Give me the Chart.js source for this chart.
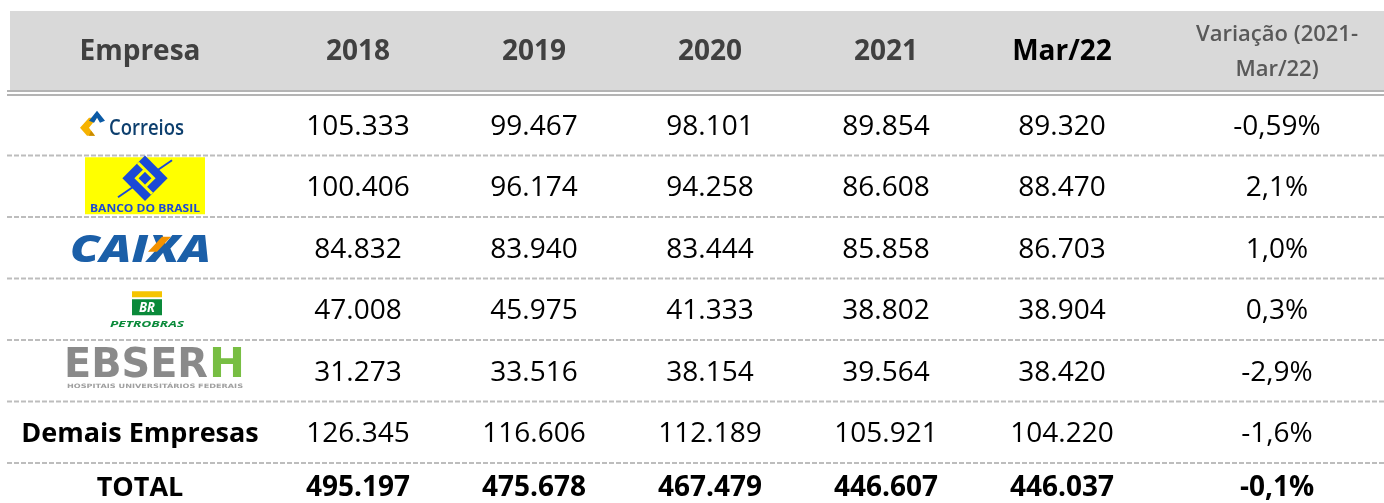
<!DOCTYPE html>
<html lang="pt-BR">
<head>
<meta charset="UTF-8">
<title>Empregados das empresas estatais</title>
<script src="https://cdn.jsdelivr.net/npm/chart.js@4.4.1/dist/chart.umd.min.js"></script>
<style>
  html, body { margin: 0; padding: 0; background: #fff; overflow: hidden; }
  #wrap { width: 1384px; height: 503px; position: relative; }
</style>
</head>
<body>
<div id="wrap"><canvas id="tabelaChart"></canvas></div>
<script>
// ======================== 1. Dados ========================
const empresas = ['Correios', 'Banco do Brasil', 'Caixa', 'Petrobras', 'EBSERH', 'Demais Empresas', 'TOTAL'];
const cabecalho = ['Empresa', '2018', '2019', '2020', '2021', 'Mar/22', 'Variação (2021-\nMar/22)'];
const v2018 = [105333, 100406, 84832, 47008, 31273, 126345, 495197];
const v2019 = [99467, 96174, 83940, 45975, 33516, 116606, 475678];
const v2020 = [98101, 94258, 83444, 41333, 38154, 112189, 467479];
const v2021 = [89854, 86608, 85858, 38802, 39564, 105921, 446607];
const vMar22 = [89320, 88470, 86703, 38904, 38420, 104220, 446037];
const variacao = [-0.59, 2.1, 1.0, 0.3, -2.9, -1.6, -0.1];

const valores = [v2018, v2019, v2020, v2021, vMar22];

// ======================== 2. Layout da tabela ========================
const LARGURAS = [260, 176, 176, 176, 176, 176, 254]; // largura das colunas (px)
const ALTURA_LINHA = 61.5;
const TOPO_CORPO = 94;
const ALTURA = 503;
const CAP = 0.714; // altura das maiusculas do Open Sans

const centros = [];
LARGURAS.reduce((acc, w) => { centros.push(acc + w / 2); return acc + w; }, 0);

// formatos pt-BR
const fmtNum = n => String(n).replace(/\B(?=(\d{3})+(?!\d))/g, '.');
const fmtPct = n => n.toFixed(Math.round(Math.abs(n) * 100) % 10 !== 0 ? 2 : 1).replace('.', ',') + '%';

// ======================== 3. Funções de desenho ========================
function texto(ctx, str, x, yc, tam, peso, cor, align = 'center') {
    ctx.font = `${peso} ${tam}px "Open Sans"`;
    ctx.fillStyle = cor;
    ctx.textAlign = align;
    ctx.textBaseline = 'alphabetic';
    ctx.fillText(str, x, yc + tam * CAP / 2);
}

// texto esticado/comprimido para caber numa largura fixa (x = esquerda, y = linha de base)
function textoLargura(ctx, str, x, y, largura, fonte, cor) {
    ctx.save();
    ctx.font = fonte;
    ctx.fillStyle = cor;
    ctx.textAlign = 'left';
    ctx.textBaseline = 'alphabetic';
    const w = ctx.measureText(str).width;
    ctx.translate(x, y);
    ctx.scale(largura / w, 1);
    ctx.fillText(str, 0, 0);
    ctx.restore();
}

function poligono(ctx, x, y, pts, cor) {
    ctx.fillStyle = cor;
    ctx.beginPath();
    pts.forEach(([dx, dy], i) => i ? ctx.lineTo(x + dx, y + dy) : ctx.moveTo(x + dx, y + dy));
    ctx.closePath();
    ctx.fill();
}

// logotipos aproximados, desenhados a partir do centro da célula
const logos = {
    'Correios': (ctx, x, y) => {
        poligono(ctx, x, y, [[-60, 3], [-51, -7], [-43, -7], [-51, 3], [-45, 11], [-53, 11]], '#f6b200');
        poligono(ctx, x, y, [[-51, 11], [-45, 11], [-49, 6]], '#c98a00');
        poligono(ctx, x, y, [[-51, -4], [-43, -14], [-35, -4], [-40, -2], [-43, -7], [-46, -2]], '#0b5aa6');
        textoLargura(ctx, 'Correios', x - 31, y + 10, 75, '600 21px "Open Sans"', '#0d3f6e');
    },
    'Banco do Brasil': (ctx, x, y) => {
        ctx.fillStyle = '#ffff00';
        ctx.fillRect(x - 55, y - 29, 120, 57);
        // linha diagonal fina
        ctx.strokeStyle = '#1b49d6';
        ctx.lineWidth = 2;
        ctx.beginPath();
        ctx.moveTo(x - 22, y + 11);
        ctx.lineTo(x + 32, y - 26);
        ctx.stroke();
        ctx.save();
        ctx.translate(x + 5, y - 8);
        ctx.rotate(Math.PI / 4);
        ctx.fillStyle = '#1b49d6';
        ctx.fillRect(-16, -16, 32, 32);
        ctx.strokeStyle = '#ffff00';
        ctx.lineWidth = 3;
        ctx.beginPath();
        ctx.moveTo(-16, -6); ctx.lineTo(6, -6); ctx.lineTo(6, 6);
        ctx.moveTo(16, 6); ctx.lineTo(-6, 6); ctx.lineTo(-6, -6);
        ctx.stroke();
        ctx.restore();
        textoLargura(ctx, 'BANCO DO BRASIL', x - 50, y + 26, 110, 'bold 11px "Open Sans"', '#1b49d6');
    },
    'Caixa': (ctx, x, y) => {
        textoLargura(ctx, 'CAIXA', x - 70, y + 14, 141, 'italic 800 37px "Open Sans"', '#1b5fa8');
        poligono(ctx, x, y, [[8, 4], [22, -11], [31, -11], [17, 4]], '#f39200');
    },
    'Petrobras': (ctx, x, y) => {
        ctx.fillStyle = '#f5c400';
        ctx.fillRect(x - 8, y - 18, 30, 6);
        ctx.fillStyle = '#0a8a3a';
        ctx.fillRect(x - 8, y - 10, 30, 16);
        textoLargura(ctx, 'BR', x - 1, y + 3, 16, 'italic bold 14px "Open Sans"', '#ffffff');
        textoLargura(ctx, 'PETROBRAS', x - 30, y + 17.5, 74, 'italic bold 9px "Open Sans"', '#0a8a3a');
    },
    'EBSERH': (ctx, x, y) => {
        textoLargura(ctx, 'EBSER', x - 76, y + 6, 144, 'bold 41px "DejaVu Sans"', '#8a8a8a');
        textoLargura(ctx, 'H', x + 69, y + 6, 36, 'bold 41px "DejaVu Sans"', '#78be43');
        textoLargura(ctx, 'HOSPITAIS UNIVERSITÁRIOS FEDERAIS', x - 73, y + 17, 176, 'bold 6px "DejaVu Sans"', '#a0a0a0');
    }
};

// ======================== 4. Plugin que desenha a tabela ========================
const tabelaPlugin = {
    id: 'tabela',
    beforeDatasetsDraw(chart) {
        const { ctx, chartArea, scales } = chart;
        const esq = chartArea.left, dir = chart.width;
        ctx.save();
        // faixa cinza do cabeçalho
        ctx.fillStyle = '#d9d9d9';
        ctx.fillRect(esq, 11, dir - esq, chartArea.top - 15);
        // linha dupla sob o cabeçalho
        ctx.fillStyle = '#b4b4b4';
        ctx.fillRect(esq - 3, chartArea.top - 4, dir - esq + 3, 2);
        ctx.fillRect(esq - 3, chartArea.top, dir - esq + 3, 2);
        // separadores tracejados entre as linhas
        ctx.strokeStyle = '#bdbdbd';
        ctx.lineWidth = 2;
        ctx.setLineDash([5, 2]);
        for (let r = 0; r < empresas.length - 1; r++) {
            const y = scales.y.getPixelForValue(r + 0.5);
            ctx.beginPath();
            ctx.moveTo(esq - 3, y);
            ctx.lineTo(dir, y);
            ctx.stroke();
        }
        ctx.restore();
    },
    afterDatasetsDraw(chart) {
        const { ctx, chartArea, scales } = chart;
        const yCab = (11 + chartArea.top - 4) / 2;
        const ultima = empresas.length - 1;
        ctx.save();
        chart.data.datasets.forEach((ds, c) => {
            const meta = chart.getDatasetMeta(c);
            const xc = meta.data[0].x;
            // cabeçalho
            if (c === 6) {
                const [l1, l2] = cabecalho[c].split('\n');
                texto(ctx, l1, xc, yCab - 17, 22, 600, '#595959');
                texto(ctx, l2, xc, yCab + 18, 22, 600, '#595959');
            } else {
                texto(ctx, cabecalho[c], xc, yCab, 28, 'bold', c === 5 ? '#000000' : '#404040');
            }
            // células
            meta.data.forEach((pt, r) => {
                let y = pt.y;
                if (r === ultima) {
                    const sep = scales.y.getPixelForValue(r - 0.5);
                    y = Math.min(y, (sep + chartArea.bottom) / 2 + 3);
                }
                const negrito = r === ultima ? 'bold' : 'normal';
                if (c === 0) {
                    if (logos[empresas[r]]) logos[empresas[r]](ctx, pt.x, y);
                    else texto(ctx, empresas[r], pt.x, y, 27, 'bold', '#000000');
                } else if (c === 6) {
                    texto(ctx, fmtPct(variacao[r]), pt.x, y, 28, negrito, '#000000');
                } else {
                    texto(ctx, fmtNum(valores[c - 1][r]), pt.x, y, 28, negrito, '#000000');
                }
            });
        });
        ctx.restore();
    }
};

// ======================== 5. Gráfico ========================
const datasets = cabecalho.map((col, c) => ({
    label: col,
    data: empresas.map((_, r) => ({ x: centros[c], y: r })),
    pointRadius: 0,
    pointHoverRadius: 0,
    showLine: false
}));

new Chart(document.getElementById('tabelaChart'), {
    type: 'scatter',
    data: { datasets },
    options: {
        responsive: true,
        maintainAspectRatio: false,
        animation: false,
        events: [],
        layout: { padding: { top: TOPO_CORPO, left: 10, right: 0, bottom: 0 } },
        plugins: { legend: { display: false }, tooltip: { enabled: false } },
        scales: {
            x: { type: 'linear', display: false, min: 0, max: 1374 },
            y: {
                type: 'linear', display: false, reverse: true,
                min: -0.5, max: -0.5 + (ALTURA - TOPO_CORPO) / ALTURA_LINHA
            }
        }
    },
    plugins: [tabelaPlugin]
});
</script>
</body>
</html>
